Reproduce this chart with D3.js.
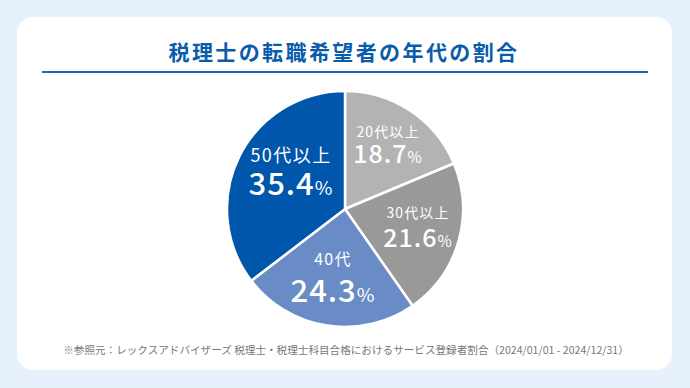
<!DOCTYPE html>
<html>
<head>
<meta charset="utf-8">
<script src="https://cdn.jsdelivr.net/npm/d3@7"></script>
<style>
  body { margin: 0; background: #e6f1fd; }
  svg { display: block; font-family: "Noto Sans CJK JP", "Noto Sans", sans-serif; }
</style>
</head>
<body>
<svg id="chart" width="690" height="388"></svg>
<script>
// data
var ageGroups = ["20代以上", "30代以上", "40代", "50代以上"];
var shares = [18.7, 21.6, 24.3, 35.4];
var sliceColors = ["#b3b3b3", "#999999", "#6a8cc6", "#0056aa"];

var titleText = "税理士の転職希望者の年代の割合";
var sourceText = "※参照元：レックスアドバイザーズ 税理士・税理士科目合格におけるサービス登録者割合（2024/01/01 - 2024/12/31）";

// label placement per slice
var labelStyle = [
  { x: 388, y: 137, vy: 163, nameSize: 14, valSize: 25 },
  { x: 418, y: 218, vy: 247, nameSize: 14, valSize: 25 },
  { x: 333, y: 265, vy: 302, nameSize: 16, valSize: 31 },
  { x: 291, y: 162, vy: 195, nameSize: 18, valSize: 31 }
];

var svg = d3.select("#chart");

// card
svg.append("rect")
    .attr("x", 17).attr("y", 17)
    .attr("width", 655).attr("height", 353)
    .attr("rx", 16).attr("ry", 16)
    .attr("fill", "#ffffff");

// title
svg.append("text")
    .attr("x", 344).attr("y", 60)
    .attr("text-anchor", "middle")
    .attr("font-size", 21)
    .attr("font-weight", "bold")
    .attr("fill", "#0a5cab")
    .attr("letter-spacing", 2.4)
    .text(titleText);

svg.append("line")
    .attr("x1", 42).attr("x2", 648)
    .attr("y1", 72).attr("y2", 72)
    .attr("stroke", "#1a63b8")
    .attr("stroke-width", 2);

// pie
var cx = 345, cy = 209, radius = 118;

var pie = d3.pie().sort(null).value(function(d){ return d; });
var arc = d3.arc().innerRadius(0).outerRadius(radius);

var g = svg.append("g").attr("transform", "translate(" + cx + "," + cy + ")");

g.selectAll("path")
    .data(pie(shares))
    .enter()
    .append("path")
        .attr("d", arc)
        .attr("fill", function(d, i){ return sliceColors[i]; })
        .attr("stroke", "#ffffff")
        .attr("stroke-width", 2.5)
        .attr("stroke-linejoin", "round");

// labels
var labels = svg.selectAll("g.lbl")
    .data(shares)
    .enter()
    .append("g")
        .attr("class", "lbl");

labels.append("text")
    .attr("x", function(d, i){ return labelStyle[i].x; })
    .attr("y", function(d, i){ return labelStyle[i].y; })
    .attr("text-anchor", "middle")
    .attr("font-size", function(d, i){ return labelStyle[i].nameSize; })
    .attr("fill", "#ffffff")
    .attr("letter-spacing", function(d, i){ return labelStyle[i].nameSize * 0.08; })
    .text(function(d, i){ return ageGroups[i]; });

var val = labels.append("text")
    .attr("x", function(d, i){ return labelStyle[i].x; })
    .attr("y", function(d, i){ return labelStyle[i].vy; })
    .attr("text-anchor", "middle")
    .attr("fill", "#ffffff")
    .attr("font-weight", 500)
    .attr("letter-spacing", 1);

val.append("tspan")
    .attr("font-size", function(d, i){ return labelStyle[i].valSize; })
    .text(function(d){ return d.toFixed(1); });

val.append("tspan")
    .attr("font-size", function(d, i){ return labelStyle[i].valSize * 0.62; })
    .attr("font-weight", "normal")
    .text("%");

// source note
svg.append("text")
    .attr("x", 346).attr("y", 354)
    .attr("text-anchor", "middle")
    .attr("font-size", 10.6)
    .attr("fill", "#777777")
    .text(sourceText);
</script>
</body>
</html>
